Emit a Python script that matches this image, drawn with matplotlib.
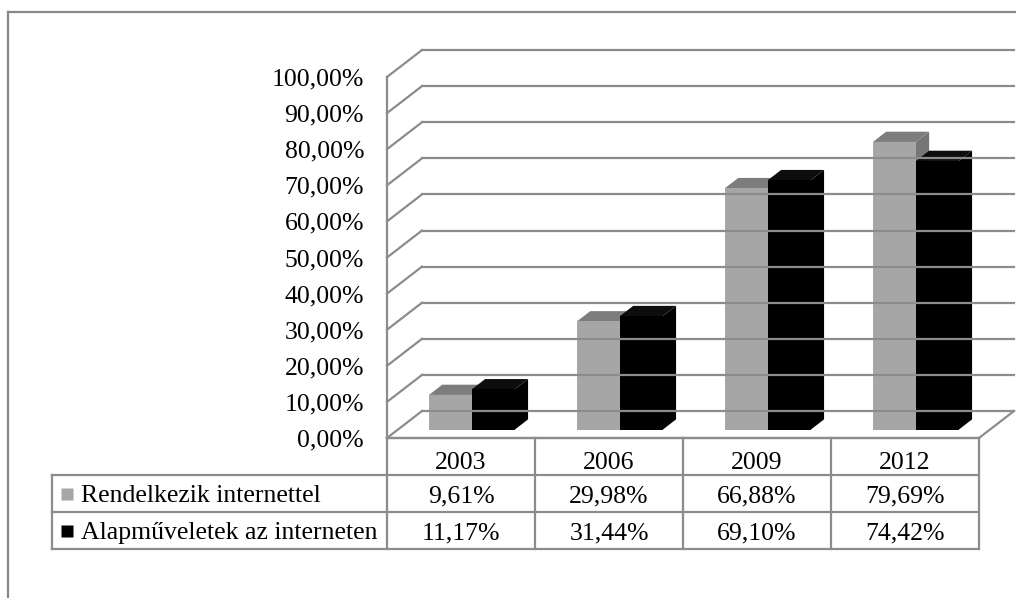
import numpy as np
import matplotlib
matplotlib.use('Agg')
import matplotlib.pyplot as plt
from matplotlib.patches import Polygon
from matplotlib.lines import Line2D
from matplotlib.transforms import IdentityTransform

years = ['2003', '2006', '2009', '2012']
series = ['Rendelkezik internettel', 'Alapműveletek az interneten']
has_internet = [9.61, 29.98, 66.88, 79.69]
basic_ops = [11.17, 31.44, 69.10, 74.42]
yticks = np.arange(0, 101, 10)

W, H = 1016, 598
plt.rcParams['font.family'] = ['Liberation Serif', 'DejaVu Serif']
FS = 18.5
GRID = '#8c8c8c'

fig = plt.figure(figsize=(W / 100, H / 100), dpi=100)

# front plane of the 3d box
ax = fig.add_axes([387 / W, 160 / H, 592 / W, 361 / H])
ax.set_xlim(0, 4)
ax.set_ylim(0, 100)
for s in ax.spines.values():
    s.set_visible(False)
ax.patch.set_visible(False)
ax.set_xticks([])
ax.set_yticks(yticks, [f'{t:.2f}%'.replace('.', ',') for t in yticks])
ax.tick_params(axis='y', length=0, pad=16.5, labelsize=FS)

DX, DY = 35, 27  # depth of the box in pixels


def proj(x, v, d):
    px, py = ax.transData.transform((x, v))
    return (px + DX * d, py + DY * d)


def line(p, q, **kw):
    ax.add_line(Line2D([p[0], q[0]], [p[1], q[1]], transform=IdentityTransform(),
                       color=GRID, lw=1.6, clip_on=False, **kw))


def poly(pts, color):
    ax.add_patch(Polygon(pts, closed=True, facecolor=color, edgecolor='none',
                         transform=IdentityTransform(), clip_on=False))


# walls and floor
for v in yticks:
    line(proj(0, v, 1), proj(4, v, 1))
    line(proj(0, v, 0), proj(0, v, 1))
line(proj(0, 0, 0), proj(0, 100, 0))
line(proj(4, 0, 0), proj(4, 0, 1))
line(proj(0, 0, 0), proj(4, 0, 0))

BW = 0.29
D0, D1 = 0.31, 0.69


def bar(xl, xr, v, front, top, side):
    poly([proj(xr, 0, D0), proj(xr, 0, D1), proj(xr, v, D1), proj(xr, v, D0)], side)
    poly([proj(xl, v, D0), proj(xr, v, D0), proj(xr, v, D1), proj(xl, v, D1)], top)
    poly([proj(xl, 0, D0), proj(xr, 0, D0), proj(xr, v, D0), proj(xl, v, D0)], front)


for i in range(len(years)):
    c = i + 0.5
    bar(c - BW, c, has_internet[i], '#a6a6a6', '#7d7d7d', '#767676')
    bar(c, c + BW, basic_ops[i], '#000000', '#0d0d0d', '#000000')

# data table under the chart
LABEL_W = 335 / 148
tab = fig.add_axes([52 / W, 49 / H, 927 / W, 111 / H])
tab.set_xlim(-LABEL_W, 4)
tab.set_ylim(3, 0)
tab.axis('off')

kw = dict(color=GRID, lw=1.6, clip_on=False)
tab.plot([0, 4], [0, 0], **kw)
for r in (1, 2, 3):
    tab.plot([-LABEL_W, 4], [r, r], **kw)
for cx in range(5):
    tab.plot([cx, cx], [0, 3], **kw)
tab.plot([-LABEL_W, -LABEL_W], [1, 3], **kw)

for i, y in enumerate(years):
    tab.text(i + 0.5, 0.68, y, ha='center', va='center', fontsize=FS)
    tab.text(i + 0.5, 1.58, f'{has_internet[i]:.2f}%'.replace('.', ','),
             ha='center', va='center', fontsize=FS)
    tab.text(i + 0.5, 2.58, f'{basic_ops[i]:.2f}%'.replace('.', ','),
             ha='center', va='center', fontsize=FS)

for r, (name, col) in enumerate(zip(series, ['#a6a6a6', '#000000'])):
    tab.plot([-LABEL_W + 15 / 148], [r + 1.5], marker='s', ms=8, color=col,
             mec='none', clip_on=False)
    tab.text(-LABEL_W + 29 / 148, r + 1.58, name, ha='left', va='center', fontsize=FS)

# chart area border
fig.add_artist(Line2D([8 / W, 8 / W], [0, 1 - 12 / H], transform=fig.transFigure,
                      color='#878787', lw=1.6))
fig.add_artist(Line2D([8 / W, 1], [1 - 12 / H, 1 - 12 / H], transform=fig.transFigure,
                      color='#878787', lw=1.6))

fig.savefig('out.png', dpi=100)
